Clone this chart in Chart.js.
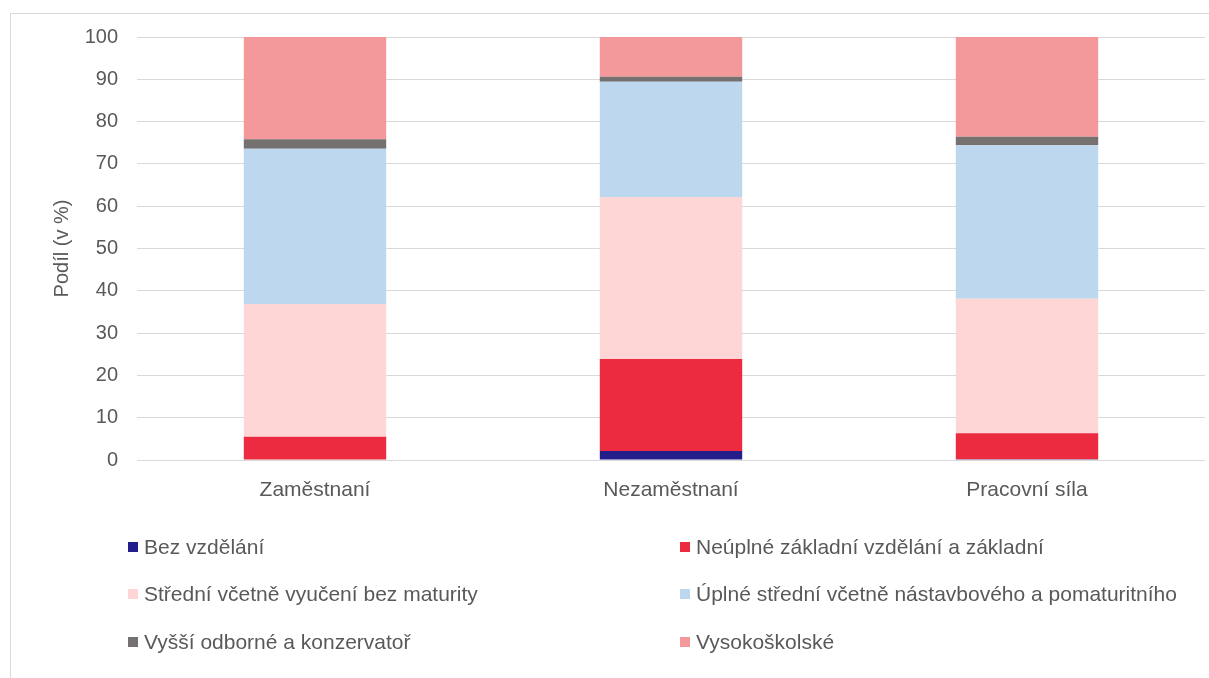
<!DOCTYPE html>
<html>
<head>
<meta charset="utf-8">
<script src="https://cdn.jsdelivr.net/npm/chart.js@4/dist/chart.umd.min.js"></script>
<style>
  body { margin: 0; background: #fff; font-family: "Liberation Sans", Arial, sans-serif; }
  #frame { position: absolute; left: 10px; top: 13px; width: 1220px; height: 700px; border: 1px solid #d9d9d9; box-sizing: border-box; }
  #wrap { position: absolute; left: 0; top: 0; width: 1209px; height: 510px; }
  #legend { position: absolute; left: 0; top: 0; width: 1209px; height: 678px; pointer-events: none; }
  .item { position: absolute; font-size: 21px; color: #595959; white-space: nowrap; line-height: 24px; }
  .box { position: absolute; width: 10px; height: 10px; }
</style>
</head>
<body>
<div id="frame"></div>
<div id="wrap"><canvas id="chart"></canvas></div>
<div id="legend"></div>
<script>
// categories on the x axis
const categories = ['Zaměstnaní', 'Nezaměstnaní', 'Pracovní síla'];

// series (share in %)
const seriesNames = [
    'Bez vzdělání',
    'Neúplné základní vzdělání a základní',
    'Střední včetně vyučení bez maturity',
    'Úplné střední včetně nástavbového a pomaturitního',
    'Vyšší odborné a konzervatoř',
    'Vysokoškolské'
];
const bezVzdelani = [0.1, 2.1, 0.2];
const zakladni = [5.4, 21.8, 6.1];
const stredniBezMaturity = [31.4, 38.3, 31.8];
const uplneStredni = [36.7, 27.2, 36.3];
const vyssiOdborne = [2.2, 1.2, 2.0];
const vysokoskolske = [24.2, 9.4, 23.6];

const colors = ['#231e8a', '#ec2a40', '#fed6d6', '#bdd7ee', '#767171', '#f4999b'];
const yTicks = [0, 10, 20, 30, 40, 50, 60, 70, 80, 90, 100];

const seriesData = [bezVzdelani, zakladni, stredniBezMaturity, uplneStredni, vyssiOdborne, vysokoskolske];

const datasets = seriesData.map((d, i) => ({
    label: seriesNames[i],
    data: d,
    backgroundColor: colors[i],
    borderWidth: 0,
    categoryPercentage: 1,
    barPercentage: 0.4
}));

const ctx = document.getElementById('chart').getContext('2d');
new Chart(ctx, {
    type: 'bar',
    data: { labels: categories, datasets: datasets },
    options: {
        responsive: true,
        maintainAspectRatio: false,
        animation: false,
        layout: { padding: { left: 50, right: 4, top: 37, bottom: 0 } },
        plugins: {
            legend: { display: false },
            tooltip: { enabled: false }
        },
        scales: {
            x: {
                stacked: true,
                grid: { display: false },
                border: { display: false },
                ticks: { color: '#595959', font: { family: 'Liberation Sans', size: 21 }, padding: 10 },
                afterFit: s => { s.height = 50; }
            },
            y: {
                stacked: true,
                min: 0,
                max: 100,
                afterBuildTicks: s => { s.ticks = yTicks.map(v => ({ value: v })); },
                grid: { color: '#d9d9d9', lineWidth: 1, drawTicks: false },
                border: { display: false },
                ticks: { color: '#595959', font: { family: 'Liberation Sans', size: 20 }, padding: 19 },
                title: {
                    display: true,
                    text: 'Podíl (v %)',
                    color: '#595959',
                    font: { family: 'Liberation Sans', size: 20 },
                    padding: { top: 0, bottom: 10 }
                },
                afterFit: s => { s.width = 87; }
            }
        }
    }
});

// legend in two columns
const legend = document.getElementById('legend');
const colX = [128, 680];
const rowY = [547, 594, 642];
seriesNames.forEach((name, i) => {
    const x = colX[i % 2];
    const y = rowY[Math.floor(i / 2)];
    const box = document.createElement('div');
    box.className = 'box';
    box.style.left = x + 'px';
    box.style.top = (y - 5) + 'px';
    box.style.background = colors[i];
    legend.appendChild(box);
    const t = document.createElement('div');
    t.className = 'item';
    t.style.left = (x + 16) + 'px';
    t.style.top = (y - 12) + 'px';
    t.textContent = name;
    legend.appendChild(t);
});
</script>
</body>
</html>
